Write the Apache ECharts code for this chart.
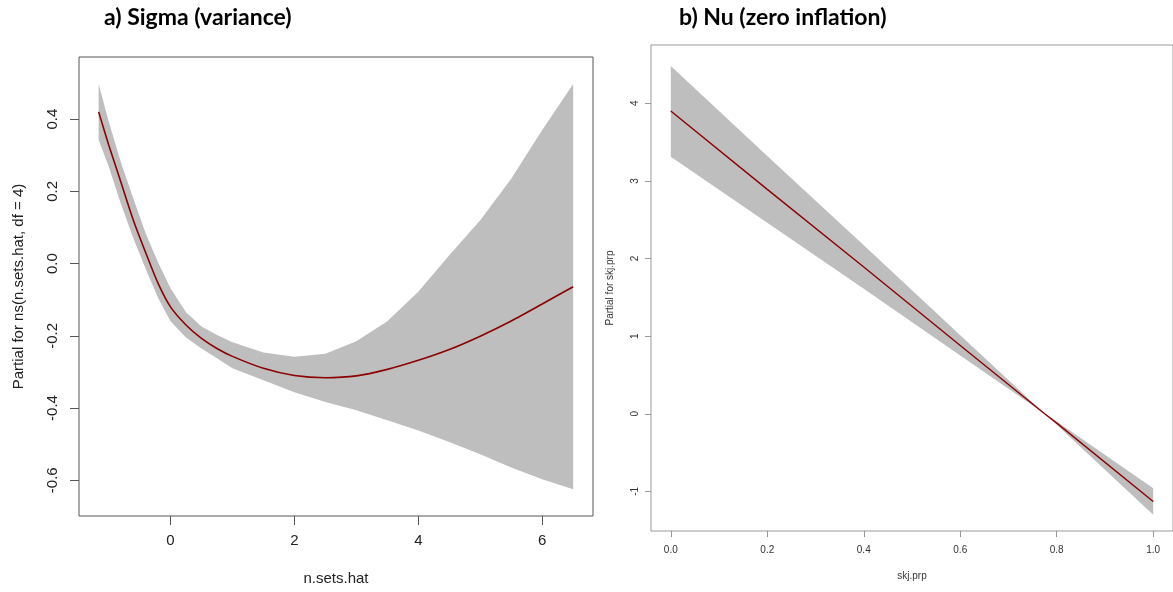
<!DOCTYPE html>
<html>
<head>
<meta charset="utf-8">
<script src="https://cdn.jsdelivr.net/npm/echarts@6/dist/echarts.min.js"></script>
<style>
  html, body { margin: 0; padding: 0; background: #fff; }
  #chart { width: 1173px; height: 592px; }
</style>
</head>
<body>
<div id="chart"></div>
<script>
  // panel a) sigma: fitted term and its band
  var sigmaX     = [-1.16, -1.0, -0.8, -0.6, -0.4, -0.2, 0.0, 0.25, 0.5, 0.75, 1.0, 1.5, 2.0, 2.5, 3.0, 3.5, 4.0, 4.5, 5.0, 5.5, 6.0, 6.5];
  var sigmaFit   = [0.42, 0.33, 0.225, 0.12, 0.03, -0.055, -0.12, -0.17, -0.207, -0.235, -0.257, -0.29, -0.31, -0.316, -0.311, -0.293, -0.268, -0.238, -0.201, -0.159, -0.112, -0.064];
  var sigmaUpper = [0.497, 0.395, 0.28, 0.18, 0.083, 0.003, -0.068, -0.135, -0.174, -0.198, -0.218, -0.246, -0.258, -0.25, -0.215, -0.16, -0.078, 0.023, 0.12, 0.235, 0.37, 0.497];
  var sigmaLower = [0.342, 0.27, 0.165, 0.07, -0.015, -0.095, -0.16, -0.205, -0.235, -0.262, -0.29, -0.323, -0.356, -0.383, -0.406, -0.434, -0.462, -0.494, -0.528, -0.565, -0.597, -0.625];
  var sigmaXTicks = [0, 2, 4, 6];
  var sigmaYTicks = [-0.6, -0.4, -0.2, 0, 0.2, 0.4];

  // panel b) nu: fitted term and its band
  var nuX     = [0, 0.2, 0.4, 0.6, 0.775, 0.8, 1.0];
  var nuFit   = [3.9, 2.89, 1.89, 0.88, 0.0, -0.12, -1.13];
  var nuUpper = [4.48, 3.32, 2.17, 1.01, 0.0, -0.10, -0.96];
  var nuLower = [3.31, 2.46, 1.61, 0.75, 0.0, -0.14, -1.30];
  var nuXTicks = [0, 0.2, 0.4, 0.6, 0.8, 1.0];
  var nuYTicks = [-1, 0, 1, 2, 3, 4];

  var bandColor = '#bebebe';
  var lineColor = '#8b0000';

  function pairs(xs, ys) {
    var out = [];
    for (var i = 0; i < xs.length; i++) out.push([xs[i], ys[i]]);
    return out;
  }

  function band(idx, xs, up, lo) {
    return {
      type: 'custom',
      xAxisIndex: idx,
      yAxisIndex: idx,
      silent: true,
      z: 1,
      data: [[xs[0], up[0]]],
      renderItem: function (params, api) {
        var pts = [];
        for (var i = 0; i < xs.length; i++) pts.push(api.coord([xs[i], up[i]]));
        for (var j = xs.length - 1; j >= 0; j--) pts.push(api.coord([xs[j], lo[j]]));
        return { type: 'polygon', shape: { points: pts }, style: { fill: bandColor } };
      }
    };
  }

  var myChart = echarts.init(document.getElementById('chart'));
  var option = {
    backgroundColor: '#fff',
    animation: false,
    title: [
      { text: 'a) Sigma (variance)', left: 104, top: 6, padding: 0,
        textStyle: { fontFamily: 'Lato', fontWeight: 'bold', fontSize: 23, color: '#000' } },
      { text: 'b) Nu (zero inflation)', left: 679, top: 6, padding: 0,
        textStyle: { fontFamily: 'Lato', fontWeight: 'bold', fontSize: 23, color: '#000' } }
    ],
    grid: [
      { left: 79, top: 57, width: 514, height: 459, show: true, borderColor: '#555', borderWidth: 1 },
      { left: 651, top: 45, width: 528, height: 486, show: true, borderColor: '#999', borderWidth: 1 }
    ],
    xAxis: [
      {
        gridIndex: 0, type: 'value', min: -1.477, max: 6.82,
        name: 'n.sets.hat', nameLocation: 'middle', nameGap: 55,
        nameTextStyle: { fontFamily: 'Liberation Sans', fontSize: 15, color: '#222' },
        axisLine: { show: false, onZero: false },
        axisTick: { show: true, length: 9, customValues: sigmaXTicks, lineStyle: { color: '#555' } },
        axisLabel: { customValues: sigmaXTicks, margin: 17, fontFamily: 'Liberation Sans', fontSize: 15, color: '#222' },
        splitLine: { show: false }
      },
      {
        gridIndex: 1, type: 'value', min: -0.041, max: 1.041,
        name: 'skj.prp', nameLocation: 'middle', nameGap: 40,
        nameTextStyle: { fontFamily: 'Liberation Sans', fontSize: 10, color: '#333' },
        axisLine: { show: false, onZero: false },
        axisTick: { show: true, length: 6, customValues: nuXTicks, lineStyle: { color: '#999' } },
        axisLabel: { customValues: nuXTicks, margin: 14, fontFamily: 'Liberation Sans', fontSize: 10, color: '#333',
          formatter: function (v) { return v.toFixed(1); } },
        splitLine: { show: false }
      }
    ],
    yAxis: [
      {
        gridIndex: 0, type: 'value', min: -0.699, max: 0.572,
        name: 'Partial for ns(n.sets.hat, df = 4)', nameLocation: 'middle', nameGap: 53,
        nameTextStyle: { fontFamily: 'Liberation Sans', fontSize: 15, color: '#222' },
        axisLine: { show: false, onZero: false },
        axisTick: { show: true, length: 9, customValues: sigmaYTicks, lineStyle: { color: '#555' } },
        axisLabel: { customValues: sigmaYTicks, rotate: 90, margin: 19, fontFamily: 'Liberation Sans', fontSize: 15, color: '#222',
          formatter: function (v) { return v.toFixed(1); } },
        splitLine: { show: false }
      },
      {
        gridIndex: 1, type: 'value', min: -1.51, max: 4.75,
        name: 'Partial for skj.prp', nameLocation: 'middle', nameGap: 36,
        nameTextStyle: { fontFamily: 'Liberation Sans', fontSize: 10, color: '#333' },
        axisLine: { show: false, onZero: false },
        axisTick: { show: true, length: 6, customValues: nuYTicks, lineStyle: { color: '#999' } },
        axisLabel: { customValues: nuYTicks, rotate: 90, margin: 11, fontFamily: 'Liberation Sans', fontSize: 10, color: '#333' },
        splitLine: { show: false }
      }
    ],
    series: [
      band(0, sigmaX, sigmaUpper, sigmaLower),
      {
        type: 'line', xAxisIndex: 0, yAxisIndex: 0, z: 3,
        data: pairs(sigmaX, sigmaFit),
        showSymbol: false, smooth: 0.25,
        lineStyle: { color: lineColor, width: 1.6 }
      },
      band(1, nuX, nuUpper, nuLower),
      {
        type: 'line', xAxisIndex: 1, yAxisIndex: 1, z: 3,
        data: pairs(nuX, nuFit),
        showSymbol: false,
        lineStyle: { color: lineColor, width: 1.4 }
      }
    ]
  };
  myChart.setOption(option);
</script>
</body>
</html>
